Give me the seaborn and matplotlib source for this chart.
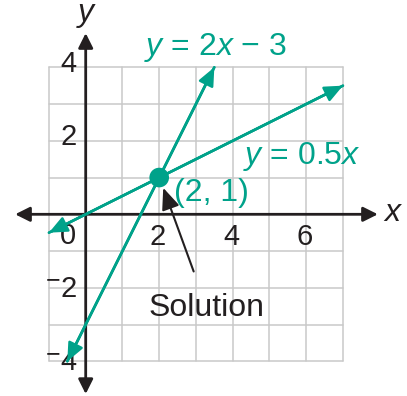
import matplotlib
matplotlib.use("Agg")
import matplotlib.pyplot as plt
import seaborn as sns
import pandas as pd

# data
grid_x = [-1, 0, 1, 2, 3, 4, 5, 6, 7]
grid_y = [-4, -3, -2, -1, 0, 1, 2, 3, 4]
x_ticks = [2, 4, 6]
x_tick_labels = ["2", "4", "6"]
y_ticks = [4, 2, 0, -2, -4]
y_tick_labels = ["4", "2", "0", "2", "4"]

steep_x = [-0.5, 3.5]   # y = 2x - 3
steep_y = [-4.0, 4.0]
flat_x = [-1.0, 7.0]    # y = 0.5x
flat_y = [-0.5, 3.5]
solution = (2, 1)

TEAL = "#00a28a"
INK = "#231f20"
GRID = "#c9c9c9"

sns.set_style("white")
plt.rcParams["font.family"] = ["Liberation Sans", "DejaVu Sans"]
plt.rcParams["mathtext.fontset"] = "custom"
plt.rcParams["mathtext.it"] = "Liberation Sans:italic"
plt.rcParams["mathtext.rm"] = "Liberation Sans"

fig = plt.figure(figsize=(4.07, 3.96), dpi=100)
ax = fig.add_axes([0, 0, 1, 1])
ax.set_xlim(-2.332, 8.743)
ax.set_ylim(-4.944, 5.831)
ax.set_axis_off()

# grid
for gx in grid_x:
    ax.plot([gx, gx], [grid_y[0], grid_y[-1]], color=GRID, lw=1.1, zorder=1)
for gy in grid_y:
    ax.plot([grid_x[0], grid_x[-1]], [gy, gy], color=GRID, lw=1.1, zorder=1)

# axes with arrows
ax_kw = dict(arrowstyle="<|-|>", color=INK, lw=2.0, mutation_scale=22, shrinkA=0, shrinkB=0)
ax.annotate("", xy=(7.95, 0), xytext=(-1.92, 0), arrowprops=ax_kw, zorder=3)
ax.annotate("", xy=(0, 4.93), xytext=(0, -4.89), arrowprops=ax_kw, zorder=3)

# lines
lines = pd.DataFrame({
    "x": steep_x + flat_x,
    "y": steep_y + flat_y,
    "eq": ["steep"] * 2 + ["flat"] * 2,
})
sns.lineplot(data=lines, x="x", y="y", units="eq", estimator=None,
             color=TEAL, lw=1.8, ax=ax, zorder=4)
head_kw = dict(arrowstyle="-|>,head_length=0.5,head_width=0.22", color=TEAL, lw=1.8,
               mutation_scale=22, shrinkA=0, shrinkB=0)
for xs, ys in [(steep_x, steep_y), (flat_x, flat_y)]:
    ax.annotate("", xy=(xs[0], ys[0]), xytext=(xs[1], ys[1]), arrowprops=head_kw, zorder=4)
    ax.annotate("", xy=(xs[1], ys[1]), xytext=(xs[0], ys[0]), arrowprops=head_kw, zorder=4)

sns.scatterplot(x=[solution[0]], y=[solution[1]], s=200, color=TEAL,
                edgecolor="none", ax=ax, zorder=5)

# tick labels
fs = 21
fs_note = 23
for t, lab in zip(x_ticks, x_tick_labels):
    ax.text(t - 0.04, -0.62, lab, ha="center", va="center", fontsize=fs, color=INK)
for t, lab in zip(y_ticks, y_tick_labels):
    if t > 0:
        yy = t + 0.1
    elif t == 0:
        yy = -0.59
    else:
        yy = t - 0.02
    ax.text(-0.47, yy, lab, ha="center", va="center", fontsize=fs, color=INK)
    if t < 0:
        ax.text(-0.89, yy + 0.22, "\u2212", ha="center", va="center", fontsize=18, color=INK)

ax.text(0.03, 5.42, "$\\mathit{y}$", ha="center", va="center", fontsize=fs_note, color=INK)
ax.text(8.36, 0.03, "$\\mathit{x}$", ha="center", va="center", fontsize=fs_note, color=INK)

ax.text(3.52, 4.53, "$\\mathit{y}$ = 2$\\mathit{x}$ \u2212 3", ha="center", va="center",
        fontsize=fs_note, color=TEAL)
ax.text(5.88, 1.56, "$\\mathit{y}$ = 0.5$\\mathit{x}$", ha="center", va="center",
        fontsize=fs_note, color=TEAL)
ax.text(3.43, 0.58, "(2, 1)", ha="center", va="center", fontsize=fs_note, color=TEAL)

ax.annotate("Solution", xy=(2.11, 0.72), xytext=(3.30, -2.55), ha="center", va="center",
            fontsize=fs_note, color=INK,
            arrowprops=dict(arrowstyle="-|>,head_length=0.6,head_width=0.25", color=INK,
                            lw=1.5, mutation_scale=22, shrinkA=14, shrinkB=0))

fig.savefig("out.png", dpi=100)
